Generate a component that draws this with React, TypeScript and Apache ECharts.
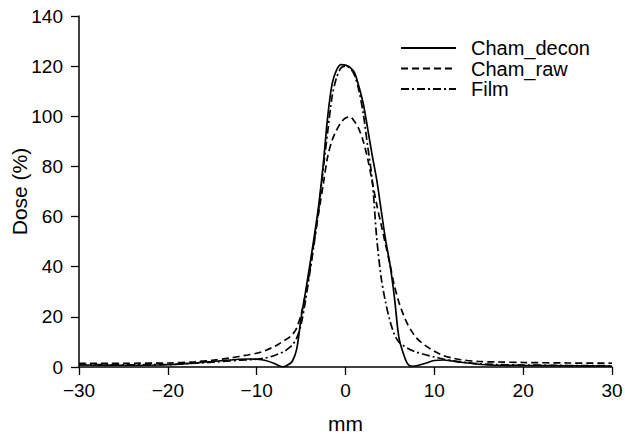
import { useEffect, useRef } from "react";
import * as echarts from "echarts";

// x positions (mm)
const positions = [
  -30, -25, -20, -17, -15, -13, -12, -11, -10, -9,
  -8, -7.5, -7, -6.5, -6, -5.5, -5, -4.5, -4, -3.5,
  -3, -2.5, -2, -1.5, -1, -0.5, 0, 0.5, 1, 1.5,
  2, 2.5, 3, 3.5, 4, 4.5, 5, 5.5, 6, 6.5,
  7, 7.5, 8, 9, 10, 11, 12, 13, 15, 17,
  20, 25, 30,
];

// Dose (%) series
const chamDecon = [
  0.8, 0.7, 0.9, 1.6, 2.2, 2.8, 3.1, 3.2, 3.1, 2.6,
  1.4, 0.5, 0.1, 0.8, 2.2, 7, 19.5, 30, 41, 52.5,
  65, 81, 100, 113, 118.5, 120.6, 120.4, 119.5, 117.5, 112,
  105, 95, 84.5, 75, 63, 51, 41, 28, 12, 5.5,
  1.2, 0.3, 0.5, 1.5, 2.6, 2.8, 2.4, 1.9, 1.1, 0.7,
  0.6, 0.5, 0.4,
];

const chamRaw = [
  1.5, 1.5, 1.6, 2.1, 2.7, 3.6, 4.2, 4.8, 5.5, 6.6,
  8.2, 9.2, 10.3, 11.4, 12.8, 15.5, 21, 29, 39, 51,
  62, 73, 84, 90.5, 94.5, 97.5, 99.3, 99.7, 98, 95,
  90, 83, 74, 65, 57, 49, 41, 32.5, 26, 21,
  17, 14, 11.5, 8.5, 6.3, 4.6, 3.6, 2.9, 2.2, 2.0,
  1.8, 1.6, 1.5,
];

const film = [
  1.0, 0.9, 1.0, 1.5, 1.9, 2.4, 2.7, 2.9, 3.1, 3.6,
  4.6, 5.3, 6.0, 7.2, 8.7, 11.5, 17, 26.5, 38, 50,
  63.5, 79, 94, 108, 115.5, 119.3, 120, 119.3, 116.5, 110.5,
  101, 88, 75, 52, 36, 26, 18.5, 13, 10, 8.6,
  7.5, 6.6, 5.9, 4.9, 4.0, 3.2, 2.5, 2.0, 1.3, 1.0,
  0.8, 0.6, 0.5,
];

const seriesNames = ["Cham_decon", "Cham_raw", "Film"];

export default function App() {
  const ref = useRef<HTMLDivElement>(null);
  useEffect(() => {
    if (!ref.current) return;
    const chart = echarts.init(ref.current, null, { renderer: "svg" });
    const font = "'Liberation Sans', Arial, Helvetica, sans-serif";
    const pair = (ys: number[]) => positions.map((x, i) => [x, ys[i]]);
    const axisCommon = {
      axisLine: { show: true, onZero: false, lineStyle: { color: "#000", width: 1.5 } },
      axisTick: { show: true, length: 8, lineStyle: { color: "#000", width: 1.3 } },
      splitLine: { show: false },
    };
    chart.setOption({
      animation: false,
      backgroundColor: "#fff",
      grid: { left: 79, right: 13, top: 16, bottom: 67, containLabel: false, outerBoundsMode: "none" },
      legend: {
        orient: "vertical",
        left: 400,
        top: 38,
        padding: 0,
        itemWidth: 55,
        itemHeight: 12,
        itemGap: 0.5,
        data: seriesNames,
        itemStyle: { opacity: 0 },
        textStyle: {
          fontFamily: font,
          fontSize: 20,
          lineHeight: 18,
          color: "#000",
          padding: [0, 0, 0, 10],
        },
      },
      xAxis: {
        type: "value",
        min: -30,
        max: 30,
        interval: 10,
        name: "mm",
        nameLocation: "middle",
        nameGap: 46,
        nameMoveOverlap: false,
        nameTextStyle: { fontFamily: font, fontSize: 21, color: "#000" },
        axisLabel: {
          margin: 14,
          fontFamily: font,
          fontSize: 19,
          color: "#000",
          formatter: (v: number) => (v < 0 ? "\u2212" + Math.abs(v) : String(v)),
        },
        ...axisCommon,
      },
      yAxis: {
        type: "value",
        min: 0,
        max: 140,
        interval: 20,
        name: "Dose (%)",
        nameLocation: "middle",
        nameGap: 49,
        nameMoveOverlap: false,
        nameTextStyle: { fontFamily: font, fontSize: 21, color: "#000" },
        axisLabel: { margin: 16, fontFamily: font, fontSize: 19, color: "#000" },
        ...axisCommon,
      },
      series: [
        {
          name: seriesNames[0],
          type: "line",
          data: pair(chamDecon),
          smooth: 0.3,
          symbol: "none",
          lineStyle: { color: "#000", width: 1.7, type: "solid" },
          itemStyle: { color: "#000" },
        },
        {
          name: seriesNames[1],
          type: "line",
          data: pair(chamRaw),
          smooth: 0.3,
          symbol: "none",
          lineStyle: { color: "#000", width: 1.7, type: [7, 4] },
          itemStyle: { color: "#000" },
        },
        {
          name: seriesNames[2],
          type: "line",
          data: pair(film),
          smooth: 0.3,
          symbol: "none",
          lineStyle: { color: "#000", width: 1.7, type: [8, 3, 2, 3] },
          itemStyle: { color: "#000" },
        },
      ],
    });
    return () => chart.dispose();
  }, []);
  return (
    <div
      ref={ref}
      style={{ position: "absolute", left: 0, top: 0, width: 625, height: 434 }}
    />
  );
}
